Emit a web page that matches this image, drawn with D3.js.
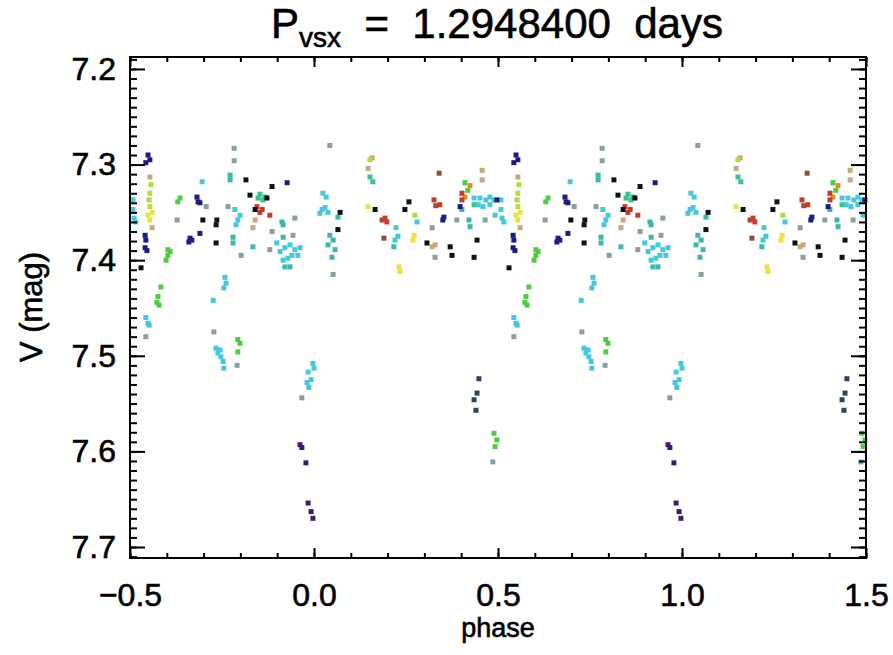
<!DOCTYPE html>
<html>
<head>
<meta charset="utf-8">
<script src="https://cdn.jsdelivr.net/npm/d3@7"></script>
<style>
  body { margin: 0; background: #fff; }
  svg { display: block; }
  text { font-family: "Liberation Sans", Arial, sans-serif; fill: #000; }
</style>
</head>
<body>
<div id="chart"></div>
<script>
// phase-folded light curve, points in phase -0.5..0.5
// (each one is drawn again one cycle later, like the original)
const black = [[-0.470,7.408],[-0.302,7.358],[-0.264,7.358],[-0.266,7.363],[-0.266,7.382],[-0.185,7.316],
  [-0.174,7.332],[-0.114,7.323],[-0.128,7.335],[-0.160,7.347],[0.071,7.350],[0.065,7.368],[0.166,7.347],
  [0.258,7.339],[0.247,7.347],[0.307,7.382],[0.370,7.386],[0.375,7.395],[0.435,7.397],[0.443,7.379]];
const navy = [[-0.451,7.290],[-0.446,7.295],[-0.457,7.298],[-0.459,7.374],[-0.457,7.379],[-0.459,7.387],
  [-0.454,7.390],[-0.318,7.334],[-0.315,7.339],[-0.310,7.340],[-0.337,7.377],[-0.340,7.381],[-0.332,7.379],
  [-0.310,7.372],[-0.073,7.319],[0.353,7.355],[0.350,7.358],[0.397,7.344],[0.497,7.337]];
const slate = [[0.448,7.524],[0.443,7.539],[0.435,7.546],[0.440,7.557]];
const purple = [[-0.038,7.593],[-0.033,7.596],[-0.022,7.612],[-0.016,7.654],[-0.008,7.663],[-0.003,7.670]];
const cyan = [[-0.492,7.337],[-0.492,7.347],[-0.489,7.356],[-0.484,7.360],[-0.304,7.318],[-0.215,7.347],
  [-0.201,7.353],[-0.207,7.358],[-0.212,7.363],[-0.101,7.382],[-0.079,7.387],[-0.065,7.384],[-0.052,7.389],
  [-0.092,7.391],[-0.060,7.395],[-0.038,7.387],[-0.071,7.398],[-0.044,7.395],[-0.084,7.400],[0.024,7.330],
  [0.033,7.334],[0.022,7.347],[0.038,7.350],[0.016,7.351],[0.030,7.345],[0.223,7.366],[0.228,7.375],
  [0.220,7.379],[0.280,7.360],[0.492,7.353],[-0.457,7.460],[-0.451,7.466],[-0.448,7.468],[-0.242,7.418],
  [-0.239,7.424],[-0.245,7.429],[-0.274,7.442],[-0.266,7.492],[-0.255,7.494],[-0.261,7.497],[-0.253,7.501],
  [-0.247,7.506],[-0.245,7.513],[-0.003,7.508],[0.000,7.513],[-0.016,7.517],[-0.008,7.525],[-0.019,7.528],
  [-0.014,7.533],[0.435,7.335],[0.451,7.335],[0.467,7.337],[0.478,7.334],[0.489,7.337],[0.446,7.342],
  [0.459,7.344],[0.478,7.342]];
const teal = [[-0.228,7.311],[-0.228,7.316],[-0.220,7.376],[-0.220,7.382],[-0.087,7.360],[-0.084,7.363],
  [-0.084,7.376],[-0.079,7.407],[-0.065,7.407],[-0.166,7.386],[0.065,7.355],[0.043,7.374],[0.052,7.379],
  [0.038,7.384],[0.057,7.389],[0.049,7.397],[0.217,7.386],[0.402,7.347],[0.421,7.358],[0.424,7.365]];
const seaGreen = [[-0.147,7.331],[-0.139,7.337],[-0.133,7.334],[-0.152,7.335],[0.152,7.313],[0.160,7.318],
  [0.435,7.342]];
const gray = [[-0.217,7.283],[-0.217,7.296],[-0.293,7.344],[-0.234,7.344],[-0.198,7.395],[0.043,7.280],
  [-0.114,7.370],[-0.052,7.356],[-0.057,7.374],[-0.120,7.389],[0.052,7.415],[0.321,7.366],[0.329,7.397],
  [0.388,7.358],[0.465,7.358],[-0.457,7.480],[-0.272,7.475],[-0.209,7.510],[-0.033,7.544],[0.486,7.611],
  [-0.372,7.358]];
const green = [[-0.364,7.335],[-0.370,7.339],[-0.397,7.389],[-0.397,7.395],[-0.402,7.400],[-0.391,7.391],
  [-0.416,7.428],[-0.424,7.438],[-0.427,7.444],[-0.421,7.447],[-0.207,7.483],[-0.201,7.487],[-0.207,7.496],
  [0.489,7.581],[0.497,7.588],[0.492,7.595],[0.410,7.319],[0.418,7.327]];
const yellowGreen = [[-0.446,7.330],[-0.448,7.337],[-0.446,7.344],[-0.443,7.321],[0.274,7.353],[0.152,7.295]];
const yellow = [[-0.451,7.353],[-0.446,7.358],[-0.440,7.350],[0.147,7.344],[0.272,7.374],[0.269,7.379],
  [0.231,7.407],[0.234,7.412]];
const tan = [[-0.446,7.313],[-0.440,7.366],[0.158,7.293],[0.147,7.304],[-0.166,7.366],[-0.160,7.358],
  [0.321,7.386],[0.329,7.384],[0.457,7.306],[0.457,7.316]];
const red = [[-0.155,7.344],[-0.147,7.350],[-0.141,7.347],[-0.120,7.353],[0.185,7.358],[0.198,7.360],
  [0.193,7.356],[0.326,7.337],[0.331,7.343],[0.342,7.342],[0.402,7.330],[0.402,7.337]];
const brown = [[0.340,7.309],[0.190,7.377]];
const orange = [[0.410,7.334],[0.424,7.322]];

const groups = [gray, tan, yellow, yellowGreen, green, seaGreen, teal, cyan, orange, red, brown, slate, purple, navy, black];
const groupColors = ["#8aa0a0", "#c8a878", "#ece04a", "#b4dc3c", "#50cc40", "#34c48c", "#3cb8a8", "#44c8e0",
  "#e48c34", "#c43c2c", "#8c5030", "#2c4464", "#3c1c6c", "#1c1c84", "#101018"];

const xTicks = [-0.5, 0.0, 0.5, 1.0, 1.5];
const yTicks = [7.2, 7.3, 7.4, 7.5, 7.6, 7.7];
const xLabel = "phase";
const yLabel = "V (mag)";

const W = 893, H = 655;
const svg = d3.select("#chart").append("svg").attr("width", W).attr("height", H);

const x = d3.scaleLinear().domain([-0.5, 1.5]).range([130, 866]);
const y = d3.scaleLinear().domain([7.1875, 7.7115]).range([57, 558]);

// points, each one twice (phase and phase + 1)
const pts = [];
groups.forEach((g, i) => {
  g.forEach(d => {
    [0, 1].forEach(k => {
      const p = d[0] + k;
      if (p >= -0.5 && p <= 1.5) pts.push({ p: p, m: d[1], c: groupColors[i] });
    });
  });
});

svg.append("g")
  .selectAll("rect")
  .data(pts)
  .join("rect")
  .attr("x", d => x(d.p) - 2.5)
  .attr("y", d => y(d.m) - 2.5)
  .attr("width", 5)
  .attr("height", 5)
  .attr("fill", d => d.c);

// minor ticks
const xMinor = d3.range(-5, 16).map(v => v / 10);
const yMinor = d3.range(719, 772).map(v => v / 100).filter(v => v >= 7.1875 && v <= 7.7115);

function styleAxis(g) {
  g.select(".domain").remove();
  g.selectAll(".tick line").attr("stroke", "#000").attr("stroke-width", 2);
}
function boldText(sel) {
  sel.attr("fill", "#000").attr("stroke", "#000").attr("stroke-width", 0.6);
}

svg.append("g").attr("transform", "translate(0,558)")
  .call(d3.axisBottom(x).tickValues(xMinor).tickSize(-5).tickFormat(""))
  .call(styleAxis);
svg.append("g").attr("transform", "translate(0,57)")
  .call(d3.axisTop(x).tickValues(xMinor).tickSize(-5).tickFormat(""))
  .call(styleAxis);
svg.append("g").attr("transform", "translate(130,0)")
  .call(d3.axisLeft(y).tickValues(yMinor).tickSize(-7).tickFormat(""))
  .call(styleAxis);
svg.append("g").attr("transform", "translate(866,0)")
  .call(d3.axisRight(y).tickValues(yMinor).tickSize(-7).tickFormat(""))
  .call(styleAxis);

// major ticks + labels
const bottom = svg.append("g").attr("transform", "translate(0,558)")
  .call(d3.axisBottom(x).tickValues(xTicks).tickSize(-10).tickPadding(25)
    .tickFormat(d => d3.format(".1f")(d).replace("-", "\u2212")))
  .call(styleAxis);
bottom.selectAll("text").style("font-size", "32px").call(boldText);

svg.append("g").attr("transform", "translate(0,57)")
  .call(d3.axisTop(x).tickValues(xTicks).tickSize(-10).tickFormat(""))
  .call(styleAxis);

const left = svg.append("g").attr("transform", "translate(130,0)")
  .call(d3.axisLeft(y).tickValues(yTicks).tickSize(-15).tickPadding(14).tickFormat(d3.format(".1f")))
  .call(styleAxis);
left.selectAll("text").style("font-size", "32px").call(boldText);

svg.append("g").attr("transform", "translate(866,0)")
  .call(d3.axisRight(y).tickValues(yTicks).tickSize(-15).tickFormat(""))
  .call(styleAxis);

// frame
svg.append("rect")
  .attr("x", 130).attr("y", 57).attr("width", 736).attr("height", 501)
  .attr("fill", "none").attr("stroke", "#000").attr("stroke-width", 2);

// title
const title = svg.append("text")
  .attr("x", 497).attr("y", 38)
  .attr("text-anchor", "middle")
  .attr("xml:space", "preserve")
  .style("white-space", "pre")
  .style("font-size", "42px")
  .call(boldText);
title.append("tspan").text("P");
title.append("tspan").attr("dy", 9).style("font-size", "28px").text("vsx");
title.append("tspan").attr("dy", -9).text("  =  1.2948400  days");

svg.append("text")
  .attr("x", 498).attr("y", 637)
  .attr("text-anchor", "middle")
  .style("font-size", "27px")
  .call(boldText)
  .text(xLabel);

svg.append("text")
  .attr("transform", "translate(42,307) rotate(-90)")
  .attr("text-anchor", "middle")
  .style("font-size", "31px")
  .call(boldText)
  .text(yLabel);
</script>
</body>
</html>
